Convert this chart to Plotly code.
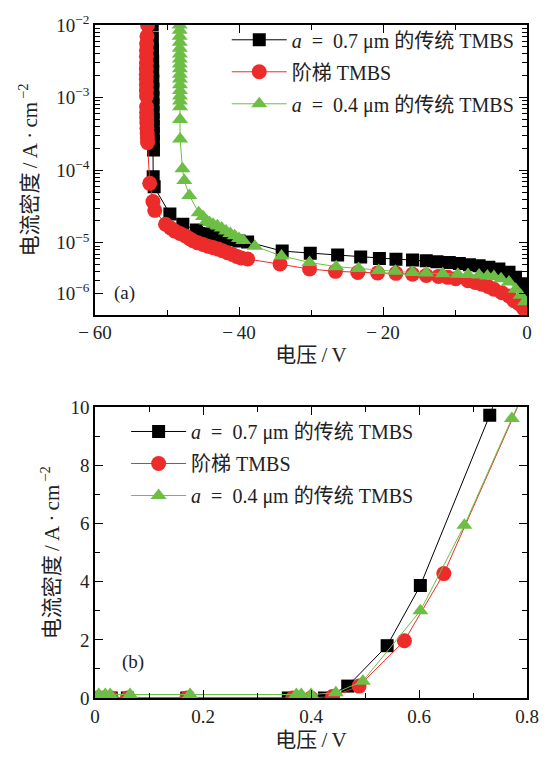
import plotly.graph_objects as go

# ---------------- data: panel (a) reverse characteristics ----------------
rev_v_07 = [-52.05, -52.03, -52.01, -51.99, -51.98, -51.97, -51.96, -51.95, -51.94, -51.93,
            -51.92, -51.91, -51.90, -51.89, -51.88, -51.92, -51.78, -49.6, -47.8, -45.9,
            -44.8, -43.6, -42.4, -41.2, -40.0, -38.8, -34.0, -30.1, -26.3, -23.1,
            -20.5, -18.2, -15.9, -14.0, -12.5, -10.8, -9.4, -8.0, -6.65, -5.3,
            -3.9, -2.5, -1.6, -0.9, -0.4, -0.05]
rev_j_07 = [1.0e-2, 6.5e-3, 4.5e-3, 3.2e-3, 2.3e-3, 1.7e-3, 1.3e-3, 1.0e-3, 8.0e-4, 6.3e-4,
            5.0e-4, 4.0e-4, 3.2e-4, 2.5e-4, 1.9e-4, 8.1e-5, 5.9e-5, 2.5e-5, 1.8e-5, 1.5e-5,
            1.35e-5, 1.25e-5, 1.17e-5, 1.1e-5, 1.06e-5, 1.03e-5, 7.7e-6, 7.2e-6, 6.8e-6, 6.4e-6,
            6.1e-6, 5.96e-6, 5.8e-6, 5.65e-6, 5.5e-6, 5.37e-6, 5.2e-6, 5.0e-6, 4.85e-6, 4.6e-6,
            4.36e-6, 3.93e-6, 3.36e-6, 2.73e-6, 2.1e-6, 1.8e-6]

rev_v_step = [-52.70, -52.78, -52.83, -52.85, -52.86, -52.86, -52.87, -52.87, -52.87, -52.86,
              -52.86, -52.85, -52.84, -52.83, -52.82, -52.80, -52.78, -52.75, -52.72, -52.70,
              -52.4, -51.95, -51.7, -50.2, -49.5, -48.9, -48.2, -47.5, -46.9, -46.4,
              -45.7, -45.0, -44.3, -43.6, -42.9, -42.3, -41.6, -40.9, -40.3, -39.7,
              -38.8, -34.3, -30.2, -26.6, -23.5, -20.75, -18.2, -15.9, -14.0, -12.3,
              -11.0, -9.9, -8.2, -7.2, -6.3, -5.4, -4.6, -3.5, -2.5, -1.8,
              -1.16, -0.5, -0.1]
rev_j_step = [1.0e-2, 7.0e-3, 5.5e-3, 4.5e-3, 3.7e-3, 3.0e-3, 2.5e-3, 2.1e-3, 1.8e-3, 1.5e-3,
              1.25e-3, 1.05e-3, 7.5e-4, 6.3e-4, 5.3e-4, 4.5e-4, 3.8e-4, 3.2e-4, 2.8e-4, 2.4e-4,
              6.6e-5, 3.7e-5, 2.8e-5, 1.8e-5, 1.6e-5, 1.45e-5, 1.35e-5, 1.25e-5, 1.15e-5, 1.07e-5,
              1.0e-5, 9.5e-6, 9.0e-6, 8.6e-6, 8.2e-6, 7.8e-6, 7.3e-6, 6.9e-6, 6.5e-6, 6.2e-6,
              6.0e-6, 5.1e-6, 4.36e-6, 4.05e-6, 3.9e-6, 3.85e-6, 3.8e-6, 3.7e-6, 3.55e-6, 3.45e-6,
              3.35e-6, 3.2e-6, 3.0e-6, 2.85e-6, 2.7e-6, 2.5e-6, 2.3e-6, 2.05e-6, 1.86e-6, 1.6e-6,
              1.46e-6, 1.26e-6, 1.06e-6]

rev_v_04 = [-48.25, -48.24, -48.24, -48.23, -48.23, -48.22, -48.22, -48.22, -48.21, -48.21,
            -48.21, -48.20, -48.20, -48.20, -48.20, -48.19, -48.19, -48.18, -47.85, -47.6,
            -46.9, -45.6, -45.0, -44.5, -44.1, -43.6, -43.0, -42.4, -41.8, -41.2,
            -40.6, -40.0, -39.4, -37.8, -34.1, -30.2, -26.5, -23.4, -20.6, -18.3,
            -15.9, -14.0, -11.7, -9.6, -8.2, -6.65, -5.5, -4.6, -3.6, -2.5,
            -1.57, -0.88, -0.28]
rev_j_04 = [1.0e-2, 8.5e-3, 7.0e-3, 5.8e-3, 4.8e-3, 4.0e-3, 3.4e-3, 2.9e-3, 2.5e-3, 2.1e-3,
            1.8e-3, 1.5e-3, 1.25e-3, 1.05e-3, 9.0e-4, 7.5e-4, 5.0e-4, 2.7e-4, 1.05e-4, 7.2e-5,
            4.5e-5, 2.6e-5, 2.3e-5, 2.0e-5, 1.9e-5, 1.8e-5, 1.72e-5, 1.6e-5, 1.45e-5, 1.35e-5,
            1.25e-5, 1.15e-5, 1.08e-5, 9.0e-6, 6.6e-6, 5.37e-6, 4.7e-6, 4.44e-6, 4.15e-6, 4.05e-6,
            3.9e-6, 3.85e-6, 3.75e-6, 3.7e-6, 3.65e-6, 3.6e-6, 3.5e-6, 3.45e-6, 3.2e-6, 2.9e-6,
            2.3e-6, 1.9e-6, 1.55e-6]

# ---------------- data: panel (b) forward characteristics ----------------
fwd_v_07 = [0.005, 0.015, 0.03, 0.06, 0.17, 0.358, 0.425, 0.468, 0.541, 0.6025, 0.731, 0.76]
fwd_j_07 = [0.0, 0.0, 0.0, 0.0, 0.0, 0.0, 0.0, 0.41, 1.8, 3.87, 9.73, 11.2]

fwd_v_step = [0.005, 0.015, 0.03, 0.06, 0.17, 0.366, 0.40, 0.44, 0.489, 0.573, 0.646, 0.83]
fwd_j_step = [0.0, 0.0, 0.0, 0.0, 0.0, 0.0, 0.0, 0.05, 0.41, 1.97, 4.28, 12.0]

fwd_v_04 = [0.007, 0.019, 0.028, 0.065, 0.176, 0.373, 0.382, 0.40, 0.446, 0.496, 0.6025, 0.684, 0.772, 0.83]
fwd_j_04 = [0.12, 0.12, 0.12, 0.12, 0.12, 0.12, 0.12, 0.12, 0.18, 0.58, 3.0, 5.94, 9.62, 12.0]

SP = "\u2002"
names = ["<i>a</i>" + SP + "=" + SP + "0.7 μm 的传统 TMBS", "阶梯 TMBS",
         "<i>a</i>" + SP + "=" + SP + "0.4 μm 的传统 TMBS"]
colors = ["#000000", "#EC2B2B", "#6DBE45"]
symbols = ["square", "circle", "triangle-up"]
msizes = [13, 15, 14]

FONT = "Liberation Serif, DejaVu Serif, Noto Sans CJK SC"
TXT = "#222222"

fig = go.Figure()

rev = [(rev_v_07, rev_j_07), (rev_v_step, rev_j_step), (rev_v_04, rev_j_04)]
fwd = [(fwd_v_07, fwd_j_07), (fwd_v_step, fwd_j_step), (fwd_v_04, fwd_j_04)]

for i in range(3):
    fig.add_trace(go.Scatter(
        x=rev[i][0], y=rev[i][1], mode="lines+markers", name=names[i],
        line=dict(color=colors[i], width=1),
        marker=dict(symbol=symbols[i], size=msizes[i], color=colors[i], line=dict(width=0)),
        xaxis="x", yaxis="y", legend="legend", legendgroup="a%d" % i))
for i in range(3):
    fig.add_trace(go.Scatter(
        x=fwd[i][0], y=fwd[i][1], mode="lines+markers", name=names[i],
        line=dict(color=colors[i], width=1),
        marker=dict(symbol=symbols[i], size=msizes[i], color=colors[i], line=dict(width=0)),
        xaxis="x2", yaxis="y2", legend="legend2", legendgroup="b%d" % i))

major_log = [1e-2, 1e-3, 1e-4, 1e-5, 2e-6]
major_log_text = ["10<sup>−2</sup>", "10<sup>−3</sup>", "10<sup>−4</sup>", "10<sup>−5</sup>", "10<sup>−6</sup>"]
minor_log = [k * 10.0 ** e for e in (-6, -5, -4, -3) for k in range(2, 10) if not (e == -6 and k == 2)]

axis_common = dict(showline=True, linecolor="black", linewidth=1.5, mirror="ticks",
                   ticks="inside", ticklen=8, tickwidth=1.2, tickcolor="black",
                   showgrid=False, zeroline=False,
                   tickfont=dict(family=FONT, size=19, color=TXT))
minor_common = dict(ticks="inside", ticklen=5, tickwidth=1.2, tickcolor="black", tickmode="array")

ytitle = "电流密度\u2009/\u2009A\u2009·\u2009cm<sup>\u2009−2</sup>"
xtitle = "电压\u2009/\u2009V"
TF = dict(family=FONT, size=21, color=TXT)

fig.update_layout(
    width=551, height=760,
    margin=dict(l=95, r=22, t=19, b=58),
    paper_bgcolor="white", plot_bgcolor="white",
    font=dict(family=FONT, size=19, color=TXT),
    showlegend=True,
    xaxis=dict(domain=[0, 1], anchor="y", range=[-60, 0],
               tickvals=[-60, -40, -20, 0],
               ticktext=["−\u200960", "−\u200940", "−\u200920", "0"],
               minor=dict(tickvals=[-50, -30, -10], **minor_common),
               title=dict(text=xtitle, standoff=5, font=TF),
               **axis_common),
    yaxis=dict(domain=[0.5695, 1], anchor="x", type="log", range=[-5.99, -2],
               tickmode="array", tickvals=major_log, ticktext=major_log_text,
               minor=dict(tickvals=minor_log, **minor_common),
               title=dict(text=ytitle, standoff=13, font=TF),
               **axis_common),
    xaxis2=dict(domain=[0, 1], anchor="y2", range=[0, 0.8],
                tickvals=[0, 0.2, 0.4, 0.6, 0.8], ticktext=["0", "0.2", "0.4", "0.6", "0.8"],
                minor=dict(tickvals=[0.1, 0.3, 0.5, 0.7], **minor_common),
                title=dict(text=xtitle, standoff=7, font=TF),
                **axis_common),
    yaxis2=dict(domain=[0, 0.4319], anchor="x2", range=[0, 10],
                tickvals=[0, 2, 4, 6, 8, 10],
                minor=dict(tickvals=[1, 3, 5, 7, 9], **minor_common),
                title=dict(text=ytitle, standoff=5, font=TF),
                **axis_common),
    legend=dict(x=0.305, y=1.007, xanchor="left", yanchor="top", bgcolor="rgba(0,0,0,0)",
                font=dict(family=FONT, size=20, color=TXT), tracegroupgap=3,
                itemsizing="trace", itemwidth=55),
    legend2=dict(x=0.072, y=0.425, xanchor="left", yanchor="top", bgcolor="rgba(0,0,0,0)",
                 font=dict(family=FONT, size=20, color=TXT), tracegroupgap=3,
                 itemsizing="trace", itemwidth=55),
    annotations=[
        dict(text="(a)", x=(112 - 95) / 433, y=(702 - 291) / 683, xref="paper", yref="paper",
             xanchor="left", yanchor="middle", showarrow=False, font=dict(family=FONT, size=19, color=TXT)),
        dict(text="(b)", x=(120 - 95) / 433, y=(702 - 665) / 683, xref="paper", yref="paper",
             xanchor="left", yanchor="middle", showarrow=False, font=dict(family=FONT, size=19, color=TXT)),
    ],
)

fig.write_html("out.html")
